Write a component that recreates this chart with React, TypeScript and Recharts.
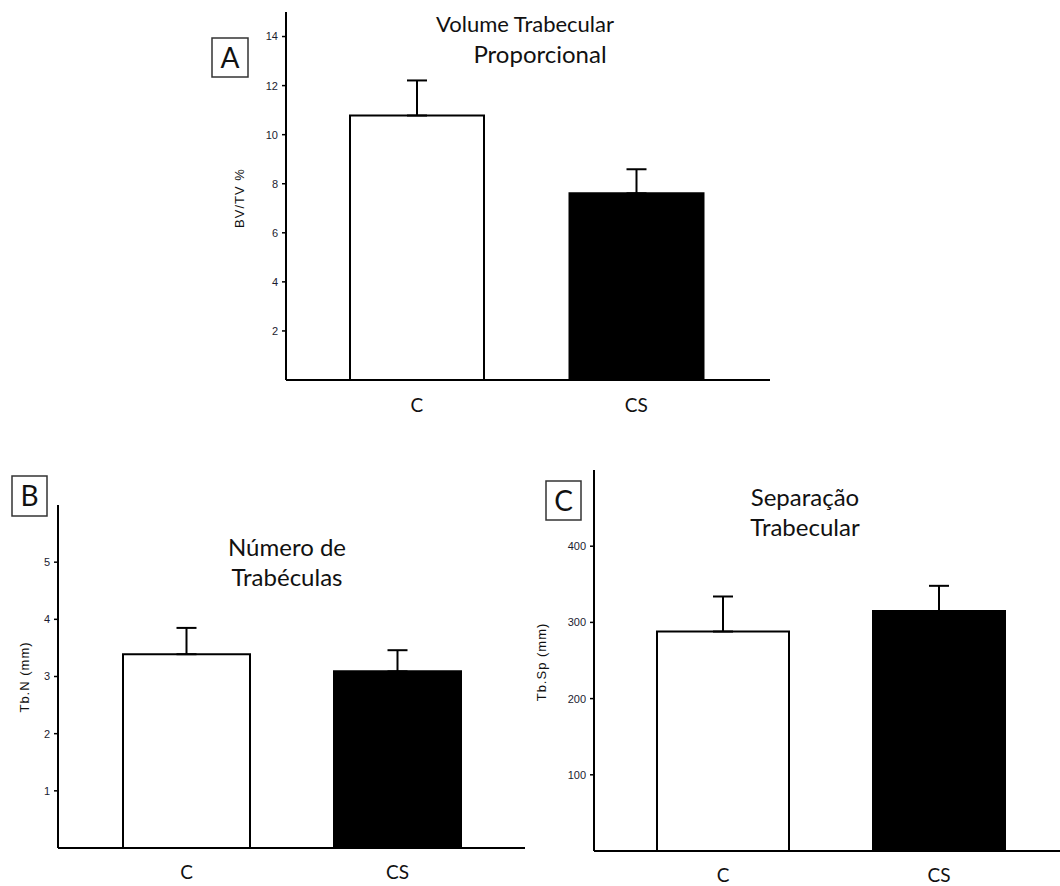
import React from 'react';
import { BarChart, Bar, XAxis, YAxis, ErrorBar, Cell } from 'recharts';

const groups = ['C', 'CS'];

// BV/TV %
const bvtvMean = [10.78, 7.61];
const bvtvSd = [1.43, 0.98];
const bvtvTicks = [2, 4, 6, 8, 10, 12, 14];

// Tb.N (mm)
const tbnMean = [3.39, 3.09];
const tbnSd = [0.46, 0.37];
const tbnTicks = [1, 2, 3, 4, 5];

// Tb.Sp (mm)
const tbspMean = [288, 315];
const tbspSd = [46, 33];
const tbspTicks = [100, 200, 300, 400];

const barFills = ['#ffffff', '#000000'];

const TITLE_FONT = 'Lato, "Open Sans", sans-serif';
const AXIS_FONT = '"Liberation Sans", Arial, sans-serif';

// only the upper half of each error bar is drawn
const rows = (means: number[], sds: number[]) =>
  groups.map((g, i) => ({ group: g, value: means[i], err: [0, sds[i]] }));

interface PanelProps {
  left: number;
  top: number;
  width: number;
  height: number;
  margin: { top: number; right: number; bottom: number; left: number };
  yWidth: number;
  xHeight: number;
  xPadding: { left: number; right: number };
  barSize: number;
  domain: [number, number];
  ticks: number[];
  tickMargin: number;
  data: { group: string; value: number; err: number[] }[];
}

const Panel = (p: PanelProps) => (
  <div style={{ position: 'absolute', left: p.left, top: p.top }}>
    <BarChart width={p.width} height={p.height} data={p.data} margin={p.margin}>
      <XAxis
        dataKey="group"
        height={p.xHeight}
        padding={p.xPadding}
        axisLine={{ stroke: '#000', strokeWidth: 2 }}
        tickLine={false}
        tickMargin={p.tickMargin}
        tick={{ fontFamily: TITLE_FONT, fontSize: 19, fill: '#111' }}
      />
      <YAxis
        type="number"
        width={p.yWidth}
        domain={p.domain}
        ticks={p.ticks}
        allowDataOverflow
        axisLine={{ stroke: '#000', strokeWidth: 2 }}
        tickLine={{ stroke: '#000', strokeWidth: 1.5 }}
        tickSize={4}
        tickMargin={4}
        tick={{ fontFamily: AXIS_FONT, fontSize: 11, fill: '#1b1b2f' }}
      />
      <Bar dataKey="value" barSize={p.barSize} stroke="#000" strokeWidth={2} isAnimationActive={false}>
        {p.data.map((_, i) => (
          <Cell key={`cell-${i}`} fill={barFills[i]} />
        ))}
        <ErrorBar dataKey="err" width={10} stroke="#000" strokeWidth={2} isAnimationActive={false} />
      </Bar>
    </BarChart>
  </div>
);

const BoxLetter = ({ x, y, w, h, letter }: { x: number; y: number; w: number; h: number; letter: string }) => (
  <g>
    <rect x={x} y={y} width={w} height={h} fill="#fff" stroke="#333" strokeWidth={1.5} />
    <text x={x + w / 2} y={y + h / 2 + 10} textAnchor="middle" fontFamily={TITLE_FONT} fontSize={28} fill="#111">
      {letter}
    </text>
  </g>
);

const Title = ({ x, y, size = 24, children }: { x: number; y: number; size?: number; children: React.ReactNode }) => (
  <text x={x} y={y} textAnchor="middle" fontFamily={TITLE_FONT} fontSize={size} fill="#111">
    {children}
  </text>
);

const AxisTitle = ({ x, y, children }: { x: number; y: number; children: React.ReactNode }) => (
  <text
    x={x}
    y={y}
    transform={`rotate(-90 ${x} ${y})`}
    textAnchor="middle"
    dominantBaseline="central"
    fontFamily={AXIS_FONT}
    fontSize={13}
    letterSpacing={1}
    fill="#111"
  >
    {children}
  </text>
);

export default function App() {
  return (
    <div style={{ position: 'absolute', left: 0, top: 0, width: 1060, height: 886, background: '#fff', overflow: 'hidden' }}>
      <Panel
        left={200}
        top={0}
        width={600}
        height={430}
        margin={{ top: 12, right: 30, bottom: 0, left: 0 }}
        yWidth={86}
        xHeight={50}
        xPadding={{ left: 21, right: 24 }}
        barSize={134}
        domain={[0, 15]}
        ticks={bvtvTicks}
        tickMargin={13}
        data={rows(bvtvMean, bvtvSd)}
      />
      <Panel
        left={0}
        top={480}
        width={540}
        height={406}
        margin={{ top: 25, right: 15, bottom: 0, left: 0 }}
        yWidth={58}
        xHeight={38}
        xPadding={{ left: 23, right: 22 }}
        barSize={127}
        domain={[0, 6]}
        ticks={tbnTicks}
        tickMargin={12}
        data={rows(tbnMean, tbnSd)}
      />
      <Panel
        left={520}
        top={440}
        width={540}
        height={446}
        margin={{ top: 30, right: 0, bottom: 0, left: 0 }}
        yWidth={74}
        xHeight={35}
        xPadding={{ left: 21, right: 13 }}
        barSize={132}
        domain={[0, 500]}
        ticks={tbspTicks}
        tickMargin={12}
        data={rows(tbspMean, tbspSd)}
      />
      <svg width={1060} height={886} style={{ position: 'absolute', left: 0, top: 0, pointerEvents: 'none' }}>
        <BoxLetter x={212} y={38} w={36} h={39} letter="A" />
        <BoxLetter x={12} y={476} w={35} h={40} letter="B" />
        <BoxLetter x={546} y={481} w={35} h={39} letter="C" />

        <Title x={525} y={32} size={22}>Volume Trabecular</Title>
        <Title x={540} y={63}>Proporcional</Title>
        <Title x={287} y={556}>Número de</Title>
        <Title x={287} y={586}>Trabéculas</Title>
        <Title x={805} y={506}>Separação</Title>
        <Title x={805} y={536}>Trabecular</Title>

        <AxisTitle x={239} y={198}>BV/TV %</AxisTitle>
        <AxisTitle x={24} y={677}>Tb.N (mm)</AxisTitle>
        <AxisTitle x={541} y={662}>Tb.Sp (mm)</AxisTitle>
      </svg>
    </div>
  );
}
